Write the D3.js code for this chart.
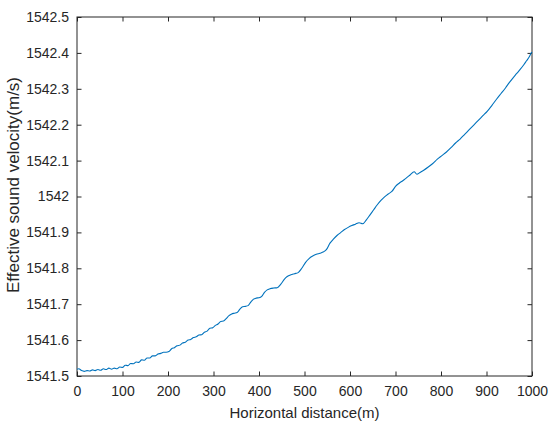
<!DOCTYPE html>
<html>
<head>
<meta charset="utf-8">
<script src="https://cdn.jsdelivr.net/npm/d3@7"></script>
<style>
  body { margin: 0; background: #fff; }
  svg { display: block; font-family: Arial, "Liberation Sans", sans-serif; }
</style>
</head>
<body>
<div id="chart"></div>
<script>
// horizontal distance (m)
var distance = [0, 4, 10, 16, 22, 28, 34, 40, 46, 52, 58, 64, 70, 76, 82, 88, 94, 100,
  106, 112, 118, 124, 130, 136, 142, 148, 154, 160, 166, 172, 178, 184, 190, 196, 202,
  208, 214, 220, 226, 232, 238, 244, 250, 256, 262, 268, 274, 280, 286, 292, 298, 304,
  310, 316, 322, 328, 334, 340, 346, 352, 358, 364, 370, 376, 382, 388, 394, 400, 406,
  412, 418, 424, 432, 440, 448, 456, 462, 470, 478, 486, 494, 502, 510, 518, 526, 534,
  542, 548, 556, 564, 572, 580, 588, 596, 604, 612, 620, 628, 636, 644, 652, 660, 668,
  676, 684, 692, 700, 708, 716, 724, 732, 741, 747, 754, 762, 772, 782, 792, 802, 812,
  822, 832, 842, 852, 862, 872, 882, 892, 902, 912, 922, 932, 942, 950, 958, 966, 974,
  982, 988, 994, 998, 1000];
// effective sound velocity (m/s)
var velocity = [1541.519, 1541.520, 1541.515, 1541.513, 1541.515, 1541.514, 1541.517,
  1541.515, 1541.518, 1541.516, 1541.520, 1541.518, 1541.522, 1541.519, 1541.522,
  1541.520, 1541.525, 1541.524, 1541.530, 1541.529, 1541.535, 1541.534, 1541.539,
  1541.538, 1541.545, 1541.544, 1541.550, 1541.550, 1541.556, 1541.556, 1541.561,
  1541.563, 1541.566, 1541.566, 1541.568, 1541.576, 1541.579, 1541.584, 1541.586,
  1541.592, 1541.594, 1541.600, 1541.602, 1541.607, 1541.609, 1541.614, 1541.615,
  1541.622, 1541.625, 1541.633, 1541.634, 1541.641, 1541.645, 1541.652, 1541.653,
  1541.660, 1541.668, 1541.673, 1541.675, 1541.677, 1541.686, 1541.693, 1541.694,
  1541.696, 1541.706, 1541.714, 1541.717, 1541.718, 1541.722, 1541.733, 1541.740,
  1541.743, 1541.745, 1541.746, 1541.756, 1541.770, 1541.777, 1541.782, 1541.785,
  1541.788, 1541.800, 1541.816, 1541.827, 1541.834, 1541.839, 1541.842, 1541.846,
  1541.852, 1541.870, 1541.882, 1541.892, 1541.900, 1541.908, 1541.914, 1541.919,
  1541.923, 1541.927, 1541.924, 1541.935, 1541.949, 1541.963, 1541.977, 1541.989,
  1541.999, 1542.007, 1542.014, 1542.028, 1542.037, 1542.044, 1542.052, 1542.060,
  1542.069, 1542.062, 1542.067, 1542.073, 1542.082, 1542.092, 1542.104, 1542.114,
  1542.124, 1542.136, 1542.149, 1542.160, 1542.173, 1542.186, 1542.199, 1542.212,
  1542.225, 1542.238, 1542.254, 1542.271, 1542.287, 1542.303, 1542.317, 1542.330,
  1542.342, 1542.354, 1542.367, 1542.378, 1542.389, 1542.399, 1542.402];

var xTicks = [0, 100, 200, 300, 400, 500, 600, 700, 800, 900, 1000];
var yTicks = [1541.5, 1541.6, 1541.7, 1541.8, 1541.9, 1542, 1542.1, 1542.2, 1542.3, 1542.4, 1542.5];

var W = 550, H = 429;
var margin = { top: 17, right: 18, bottom: 53, left: 77 },
  width = W - margin.left - margin.right,
  height = H - margin.top - margin.bottom;

var svg = d3.select("#chart")
  .append("svg")
  .attr("width", W)
  .attr("height", H)
  .append("g")
  .attr("transform", "translate(" + margin.left + "," + margin.top + ")");

var x = d3.scaleLinear().domain([0, 1000]).range([0, width]);
var y = d3.scaleLinear().domain([1541.5, 1542.5]).range([height, 0]);

var axisColor = "#262626";
var tickLen = 4.5;

function styleAxis(g) {
  g.select(".domain").remove();
  g.selectAll(".tick line").attr("stroke", axisColor);
  g.selectAll(".tick text").attr("fill", axisColor).style("font-size", "14px");
}

// bottom & left axes, ticks pointing inwards
svg.append("g")
  .attr("transform", "translate(0," + height + ")")
  .call(d3.axisBottom(x).tickValues(xTicks).tickSize(-tickLen).tickPadding(10).tickFormat(d3.format("d")))
  .call(styleAxis);

svg.append("g")
  .call(d3.axisLeft(y).tickValues(yTicks).tickSize(-tickLen).tickPadding(8).tickFormat(function (d) { return +d.toFixed(1); }))
  .call(styleAxis);

// top & right ticks (box on)
svg.append("g")
  .call(d3.axisTop(x).tickValues(xTicks).tickSize(-tickLen).tickFormat(""))
  .call(styleAxis);
svg.append("g")
  .attr("transform", "translate(" + width + ",0)")
  .call(d3.axisRight(y).tickValues(yTicks).tickSize(-tickLen).tickFormat(""))
  .call(styleAxis);

// box
svg.append("rect")
  .attr("width", width)
  .attr("height", height)
  .attr("fill", "none")
  .attr("stroke", axisColor)
  .attr("stroke-width", 1);

var points = distance.map(function (d, i) { return [d, velocity[i]]; });
var line = d3.line()
  .x(function (d) { return x(d[0]); })
  .y(function (d) { return y(d[1]); })
  .curve(d3.curveMonotoneX);

svg.append("path")
  .datum(points)
  .attr("fill", "none")
  .attr("stroke", "#0072BD")
  .attr("stroke-width", 1.1)
  .attr("d", line);

// axis labels
svg.append("text")
  .attr("x", width / 2)
  .attr("y", height + 42)
  .attr("text-anchor", "middle")
  .style("font-size", "15px")
  .attr("fill", axisColor)
  .text("Horizontal distance(m)");

svg.append("text")
  .attr("transform", "translate(" + (19 - margin.left) + "," + (185 - margin.top) + ") rotate(-90)")
  .attr("text-anchor", "middle")
  .style("font-size", "17px")
  .attr("fill", axisColor)
  .text("Effective sound velocity(m/s)");
</script>
</body>
</html>
